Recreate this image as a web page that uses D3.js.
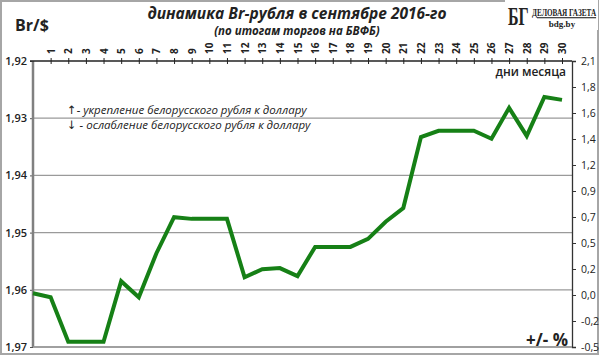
<!DOCTYPE html>
<html>
<head>
<meta charset="utf-8">
<script src="https://cdn.jsdelivr.net/npm/d3@7"></script>
<style>
  body { margin: 0; background: #fff; }
  text { font-family: "Open Sans", "DejaVu Sans", sans-serif; fill: #222; }
</style>
</head>
<body>
<svg id="chart" width="600" height="356"></svg>
<script>
// день 0 = 31 августа, затем 1..30 сентября
var days = d3.range(0, 31);
var rates = [1.9606, 1.9613, 1.9691, 1.9691, 1.9691, 1.9585, 1.9613, 1.9536, 1.9473, 1.9476,
  1.9476, 1.9476, 1.9578, 1.9564, 1.9562, 1.9576, 1.9525, 1.9525, 1.9525, 1.9511,
  1.9481, 1.9457, 1.9333, 1.9322, 1.9322, 1.9322, 1.9336, 1.9282, 1.9331, 1.9263, 1.9268];
var leftTicks = [1.92, 1.93, 1.94, 1.95, 1.96, 1.97];
var rightLabels = ["-0,5", "-0,2", "0,0", "0,2", "0,5", "0,7", "0,9", "1,2", "1,4", "1,6", "1,8", "2,1"];
var dayTicks = d3.range(1, 31);

var svg = d3.select("#chart");
var plotTop = 61, plotBottom = 347, plotLeft = 33, plotRight = 572;

var x = d3.scaleLinear().domain([0, 30]).range([plotLeft, 562]);
var y = d3.scaleLinear().domain([1.92, 1.97]).range([plotTop, plotBottom]);
var yr = d3.scaleLinear().domain([0, rightLabels.length - 1]).range([plotBottom, plotTop]);

// рамка
svg.append("rect")
  .attr("x", 1).attr("y", 1).attr("width", 597).attr("height", 353)
  .attr("fill", "none").attr("stroke", "#a6a6a6").attr("stroke-width", 2);

// сетка
svg.append("g").selectAll("line")
  .data(leftTicks.slice(1))
  .join("line")
  .attr("x1", plotLeft).attr("x2", plotRight)
  .attr("y1", d => y(d)).attr("y2", d => y(d))
  .attr("stroke", "#9a9a9a").attr("stroke-width", 1.3);

// левая ось
var yAxis = svg.append("g")
  .attr("transform", "translate(" + plotLeft + ",0)")
  .call(d3.axisLeft(y).tickValues(leftTicks).tickSize(3)
    .tickFormat(d => d3.format(".2f")(d).replace(".", ",")));
yAxis.select(".domain").remove();
yAxis.selectAll("line").attr("stroke", "#555");
yAxis.selectAll("text").attr("x", -6).style("font-size", "11px").style("font-weight", "600")
  .style("font-family", "'Open Sans', sans-serif").attr("fill", "#222");
svg.append("line")
  .attr("x1", plotLeft).attr("x2", plotLeft).attr("y1", plotTop).attr("y2", plotBottom)
  .attr("stroke", "#808080").attr("stroke-width", 2.5);

// правая ось
var yrAxis = svg.append("g")
  .attr("transform", "translate(" + plotRight + ",0)")
  .call(d3.axisRight(yr).tickValues(d3.range(rightLabels.length)).tickSize(4)
    .tickFormat(i => rightLabels[i]));
yrAxis.select(".domain").attr("stroke", "#333").attr("stroke-width", 1.3);
yrAxis.selectAll("line").attr("stroke", "#333");
yrAxis.selectAll("text").attr("x", 9).style("font-size", "10.5px")
  .style("font-family", "'Open Sans', sans-serif").attr("fill", "#222");

// верхняя ось (дни)
var xAxis = svg.append("g")
  .attr("transform", "translate(0," + plotTop + ")")
  .call(d3.axisTop(x).tickValues(dayTicks).tickSize(3).tickSizeOuter(0));
xAxis.select(".domain").attr("d", "M" + (plotLeft - 3) + ",0H" + plotRight).attr("stroke", "#222").attr("stroke-width", 1.3);
xAxis.selectAll(".tick line").attr("y1", 3).attr("y2", -3).attr("stroke", "#222");
xAxis.selectAll(".tick text")
  .attr("transform", "rotate(-90)")
  .attr("x", 7).attr("y", 0).attr("dy", "0.35em")
  .attr("text-anchor", "start")
  .style("font-size", "10px").style("font-weight", "bold")
  .style("font-family", "'Open Sans', sans-serif").attr("fill", "#222");

// нижняя линия
svg.append("line")
  .attr("x1", plotLeft).attr("x2", plotRight).attr("y1", plotBottom).attr("y2", plotBottom)
  .attr("stroke", "#9a9a9a").attr("stroke-width", 1.5);

// линия курса
var line = d3.line().x((d, i) => x(days[i])).y(d => y(d));
svg.append("path")
  .datum(rates)
  .attr("d", line)
  .attr("fill", "none")
  .attr("stroke", "#168016")
  .attr("stroke-width", 4)
  .attr("stroke-linejoin", "miter");

// заголовки
svg.append("text").attr("x", 297).attr("y", 19).attr("text-anchor", "middle")
  .style("font-size", "15.5px").style("font-weight", "bold").style("font-style", "italic")
  .text("динамика Br-рубля в сентябре 2016-го");
svg.append("text").attr("x", 297).attr("y", 35).attr("text-anchor", "middle")
  .style("font-size", "11.5px").style("font-weight", "bold").style("font-style", "italic")
  .text("(по итогам торгов на БВФБ)");
svg.append("text").attr("x", 15).attr("y", 31)
  .style("font-size", "16px").style("font-weight", "bold")
  .text("Br/$");

// подписи
svg.append("text").attr("x", 566).attr("y", 76).attr("text-anchor", "end")
  .style("font-size", "12px").style("font-weight", "600")
  .text("дни месяца");
svg.append("text").attr("x", 568).attr("y", 346).attr("text-anchor", "end")
  .style("font-size", "17px").style("font-weight", "bold")
  .text("+/- %");
svg.append("text").attr("x", 67).attr("y", 114)
  .style("font-size", "11.5px").style("font-style", "italic")
  .text("↑- укрепление белорусского рубля к доллару");
svg.append("text").attr("x", 67).attr("y", 129)
  .style("font-size", "11.5px").style("font-style", "italic")
  .text("↓ - ослабление белорусского рубля к доллару");

// логотип
var logo = svg.append("g");
logo.append("rect").attr("x", 505).attr("y", 0).attr("width", 93).attr("height", 30).attr("fill", "#fff");
logo.append("text")
  .attr("transform", "translate(508,25) scale(1,1.55)")
  .style("font-family", "'Liberation Serif', serif").style("font-size", "16px").style("font-weight", "bold")
  .attr("fill", "#111")
  .text("БГ");
logo.append("text")
  .attr("transform", "translate(532,16) scale(1,1.5)")
  .style("font-family", "'Liberation Serif', serif").style("font-size", "7.2px").style("font-weight", "bold")
  .attr("fill", "#111")
  .style("text-decoration", "underline")
  .text("ДЕЛОВАЯ ГАЗЕТА");
logo.append("text").attr("x", 562).attr("y", 27).attr("text-anchor", "middle")
  .style("font-family", "'Liberation Serif', serif").style("font-size", "9px").style("font-weight", "bold")
  .attr("fill", "#333")
  .text("bdg.by");
</script>
</body>
</html>
